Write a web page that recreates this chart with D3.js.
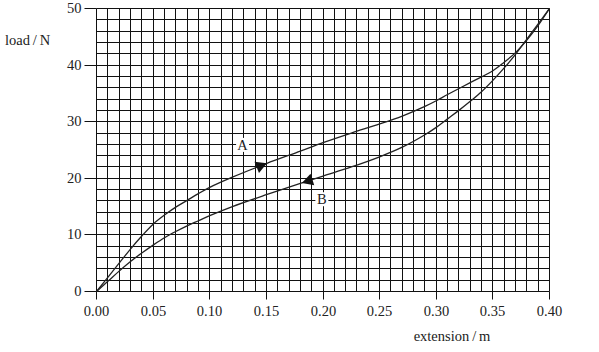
<!DOCTYPE html>
<html>
<head>
<meta charset="utf-8">
<script src="https://cdn.jsdelivr.net/npm/d3@7"></script>
<style>
  body { margin: 0; background: #fff; }
  text { font-family: "Liberation Serif", "DejaVu Serif", serif; fill: #222; }
</style>
</head>
<body>
<svg width="599" height="352"></svg>
<script>
// curve A (upper, loading)
const extA = [0, 0.01, 0.02, 0.03, 0.04, 0.05, 0.06, 0.07, 0.08, 0.09, 0.10, 0.12, 0.15, 0.18, 0.20, 0.225, 0.25, 0.27, 0.29, 0.30, 0.31, 0.33, 0.35, 0.36, 0.37, 0.38, 0.39, 0.40]
const loadA = [0, 2.5, 5.0, 7.5, 9.8, 11.9, 13.5, 14.9, 16.1, 17.3, 18.4, 20.2, 22.6, 24.8, 26.3, 28.0, 29.6, 31.0, 32.7, 33.7, 34.8, 36.9, 39.0, 40.5, 42.2, 44.4, 47.0, 50]

// curve B (lower, unloading)
const extB = [0, 0.01, 0.02, 0.03, 0.04, 0.05, 0.06, 0.07, 0.08, 0.09, 0.10, 0.12, 0.15, 0.18, 0.20, 0.225, 0.25, 0.27, 0.29, 0.30, 0.31, 0.32, 0.33, 0.34, 0.35, 0.36, 0.37, 0.38, 0.39, 0.40]
const loadB = [0, 1.8, 3.6, 5.3, 6.8, 8.2, 9.5, 10.6, 11.6, 12.5, 13.4, 15.0, 17.1, 19.1, 20.4, 22.0, 23.8, 25.5, 27.7, 29.0, 30.5, 32.0, 33.6, 35.3, 37.3, 39.5, 41.9, 44.6, 47.3, 50]

const xTicks = [0, 0.05, 0.10, 0.15, 0.20, 0.25, 0.30, 0.35, 0.40]
const yTicks = [0, 10, 20, 30, 40, 50]

const svg = d3.select("svg")
const x = d3.scaleLinear().domain([0, 0.4]).range([96.5, 549.5])
const y = d3.scaleLinear().domain([0, 50]).range([291.5, 8.5])
const px = v => Math.round(x(v) - 0.5) + 0.5
const py = v => Math.round(y(v) - 0.5) + 0.5

// grid
const grid = svg.append("g").attr("stroke", "#111").attr("stroke-width", 1)
grid.selectAll("line.v")
    .data(d3.range(0, 41))
    .enter()
    .append("line")
    .attr("x1", i => px(i / 100))
    .attr("x2", i => px(i / 100))
    .attr("y1", y(0))
    .attr("y2", y(50))
grid.selectAll("line.h")
    .data(d3.range(0, 51, 2))
    .enter()
    .append("line")
    .attr("y1", d => py(d))
    .attr("y2", d => py(d))
    .attr("x1", x(0))
    .attr("x2", x(0.4))

// axes with outside ticks
const xAxis = svg.append("g")
    .attr("transform", `translate(0, ${py(0)})`)
    .call(d3.axisBottom(x).tickValues(xTicks).tickSize(8).tickPadding(6).tickFormat(d3.format(".2f")))
const yAxis = svg.append("g")
    .attr("transform", `translate(${px(0)}, 0)`)
    .call(d3.axisLeft(y).tickValues(yTicks).tickSize(12).tickPadding(3).tickFormat(d3.format("d")))

xAxis.select(".domain").remove()
yAxis.select(".domain").remove()
svg.selectAll(".tick line").attr("stroke", "#111")
svg.selectAll(".tick text")
    .style("font-family", "Liberation Serif")
    .style("font-size", "14.5px")
    .attr("fill", "#222")
xAxis.selectAll(".tick").attr("transform", d => `translate(${px(d)},0)`)
yAxis.selectAll(".tick").attr("transform", d => `translate(0,${py(d)})`)

// curves
const line = d3.line()
    .x(d => x(d[0]))
    .y(d => y(d[1]))
    .curve(d3.curveCatmullRom.alpha(0.5))

const curves = [d3.zip(extA, loadA), d3.zip(extB, loadB)]
svg.selectAll("path.curve")
    .data(curves)
    .enter()
    .append("path")
    .attr("class", "curve")
    .attr("d", line)
    .attr("fill", "none")
    .attr("stroke", "#222")
    .attr("stroke-width", 1.3)

// arrowheads along the curves
function arrow(xs, ys, at, dir){
    const f = v => {
        const i = d3.bisectRight(xs, v) - 1
        const t = (v - xs[i]) / (xs[i + 1] - xs[i])
        return ys[i] + t * (ys[i + 1] - ys[i])
    }
    const x0 = x(at), y0 = y(f(at))
    const x1 = x(at + dir * 0.004), y1 = y(f(at + dir * 0.004))
    const a = Math.atan2(y1 - y0, x1 - x0)
    const len = 11, hw = 6
    const tip = [x0 + Math.cos(a) * len / 2, y0 + Math.sin(a) * len / 2]
    const base = [x0 - Math.cos(a) * len / 2, y0 - Math.sin(a) * len / 2]
    const p1 = [base[0] - Math.sin(a) * hw, base[1] + Math.cos(a) * hw]
    const p2 = [base[0] + Math.sin(a) * hw, base[1] - Math.cos(a) * hw]
    svg.append("path")
        .attr("d", `M${tip}L${p1}L${p2}Z`)
        .attr("fill", "#111")
}
arrow(extA, loadA, 0.146, 1)
arrow(extB, loadB, 0.186, -1)

// curve labels with white boxes
const labels = [["A", 0.129, 25.9], ["B", 0.199, 16.3]]
labels.forEach(([t, ex, ld]) => {
    svg.append("rect")
        .attr("x", x(ex) - 6.5)
        .attr("y", y(ld) - 7)
        .attr("width", 13)
        .attr("height", 14)
        .attr("fill", "#fff")
    svg.append("text")
        .attr("x", x(ex))
        .attr("y", y(ld) + 5)
        .attr("text-anchor", "middle")
        .style("font-size", "14.5px")
        .text(t)
})

// axis titles
svg.append("text")
    .attr("x", 5)
    .attr("y", 45)
    .style("font-size", "14.5px")
    .text("load\u2009/\u2009N")
svg.append("text")
    .attr("x", 452)
    .attr("y", 341)
    .attr("text-anchor", "middle")
    .style("font-size", "14.5px")
    .text("extension\u2009/\u2009m")
</script>
</body>
</html>
